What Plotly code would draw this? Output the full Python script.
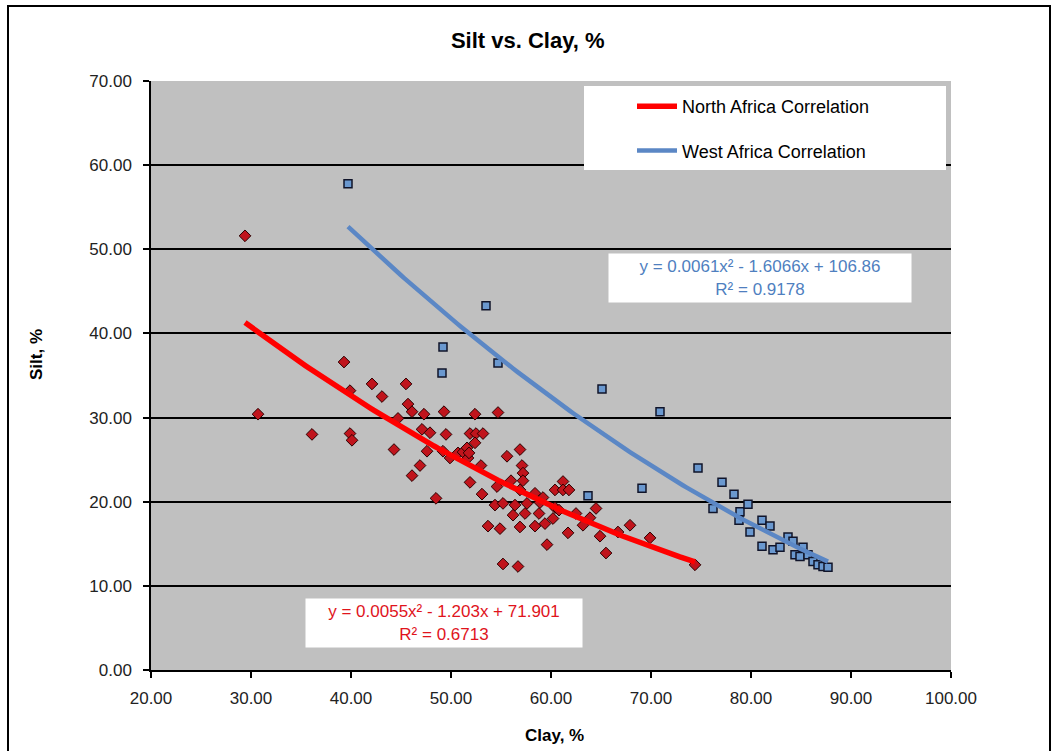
import numpy as np
import plotly.graph_objects as go

# North Africa samples: clay %, silt %
na_clay = [29.4, 30.7, 36.1, 39.3, 39.9, 39.9, 40.1, 42.1, 43.1, 44.3,
           44.7, 45.5, 45.7, 46.1, 46.1, 46.9, 47.1, 47.3, 47.6, 47.9,
           48.5, 49.3, 49.5, 49.2, 49.9, 50.7, 51.2, 51.6, 51.7, 51.8,
           51.9, 52.4, 52.5, 53.2, 52.4, 51.9, 53.0, 53.1, 53.7, 54.4,
           54.7, 54.9, 55.2, 55.2, 55.6, 56.0, 56.2, 56.4, 56.7, 56.9,
           56.9, 56.9, 57.1, 57.2, 57.2, 57.4, 58.4, 58.4, 58.8, 59.4,
           59.6, 60.2, 60.4, 60.4, 61.2, 61.2, 61.8, 61.7, 63.2, 63.9,
           64.5, 64.9, 65.5, 66.7, 67.9, 69.9, 74.4, 54.6, 57.6, 58.9,
           59.2, 60.8, 62.5]
na_silt = [51.6, 30.4, 28.0, 36.6, 33.2, 28.1, 27.3, 34.0, 32.5, 26.2,
           29.9, 34.0, 31.6, 30.7, 23.1, 24.3, 28.6, 30.4, 26.0, 28.2,
           20.4, 30.7, 28.0, 26.0, 25.2, 25.8, 25.9, 26.4, 25.2, 25.8,
           28.1, 30.4, 28.1, 28.1, 27.0, 22.3, 24.3, 20.9, 17.1, 19.6,
           30.6, 16.8, 19.8, 12.6, 25.4, 22.5, 18.4, 19.6, 12.3, 26.2,
           21.4, 17.0, 24.3, 23.4, 22.5, 18.6, 21.0, 17.1, 18.6, 17.4,
           14.9, 18.0, 21.4, 19.3, 22.4, 21.4, 21.4, 16.3, 17.2, 18.1,
           19.2, 15.9, 13.9, 16.4, 17.2, 15.7, 12.5, 21.8, 19.8, 19.9,
           20.5, 19.0, 18.6]

# West Africa samples: clay %, silt %
wa_clay = [39.7, 49.1, 49.2, 53.5, 54.7, 63.7, 65.1, 69.1, 70.9, 74.7,
           76.2, 77.1, 78.3, 78.8, 78.9, 79.7, 79.9, 81.1, 81.1, 81.9,
           82.2, 82.9, 83.7, 84.2, 84.4, 84.9, 85.2, 85.7, 86.2, 86.7,
           87.2, 87.7]
wa_silt = [57.8, 35.3, 38.4, 43.3, 36.5, 20.7, 33.4, 21.6, 30.7, 24.0,
           19.2, 22.3, 20.9, 17.8, 18.8, 19.7, 16.4, 17.8, 14.7, 17.1,
           14.3, 14.6, 15.8, 15.3, 13.7, 13.5, 14.6, 13.7, 12.9, 12.5,
           12.3, 12.2]

# Polynomial trendline coefficients (a*x^2 + b*x + c) and R^2
na_coef = [0.0055, -1.203, 71.901]
na_r2 = 0.6713
wa_coef = [0.0061, -1.6066, 106.86]
wa_r2 = 0.9178

FONT = "Liberation Sans, Arial, sans-serif"


def trend(coef, xs):
    x = np.linspace(min(xs), max(xs), 120)
    return x, np.polyval(coef, x)


def eq_text(coef, r2):
    a, b, c = coef
    sign_b = "-" if b < 0 else "+"
    sign_c = "-" if c < 0 else "+"
    return (f"y = {a:g}x² {sign_b} {abs(b):g}x {sign_c} {abs(c):g}"
            f"<br>R² = {r2:g}")


fig = go.Figure()

fig.add_trace(go.Scatter(
    x=na_clay, y=na_silt, mode="markers", name="North Africa",
    showlegend=False,
    marker=dict(symbol="diamond", size=9, color="#C0141C",
                line=dict(color="#2a0000", width=1)),
))
fig.add_trace(go.Scatter(
    x=wa_clay, y=wa_silt, mode="markers", name="West Africa",
    showlegend=False,
    marker=dict(symbol="square", size=8, color="#6A98CF",
                line=dict(color="#10142a", width=1.5)),
))

nx, ny = trend(na_coef, na_clay)
fig.add_trace(go.Scatter(
    x=nx, y=ny, mode="lines", name="North Africa Correlation",
    legendgroup="na", line=dict(color="#FF0000", width=5.5),
))
wx, wy = trend(wa_coef, wa_clay)
fig.add_trace(go.Scatter(
    x=wx, y=wy, mode="lines", name="West Africa Correlation",
    legendgroup="wa", line=dict(color="#5B87C5", width=4.5),
))

# plot area spans 800 x 589 px; helpers to place things in paper units
def px_x(p):
    return (p - 151) / 800


def px_y(p):
    return (670 - p) / 589


shapes = [
    # outer chart frame
    dict(type="rect", xref="paper", yref="paper",
         x0=px_x(8), x1=px_x(1050), y0=px_y(770), y1=px_y(6),
         line=dict(color="black", width=2), fillcolor="rgba(0,0,0,0)",
         layer="below"),
    # white panel behind the legend
    dict(type="rect", xref="paper", yref="paper",
         x0=px_x(584), x1=px_x(946), y0=px_y(170), y1=px_y(86),
         line=dict(width=0), fillcolor="white", layer="above"),
]

annotations = [
    dict(text="<b>Silt, %</b>", xref="paper", yref="paper",
         x=px_x(37), y=px_y(355), textangle=-90, showarrow=False,
         font=dict(family=FONT, size=17, color="black"),
         xanchor="center", yanchor="middle"),
    dict(text="<b>Clay, %</b>", xref="paper", yref="paper",
         x=px_x(554), y=px_y(735), showarrow=False,
         font=dict(family=FONT, size=17, color="black"),
         xanchor="center", yanchor="middle"),
    dict(text=eq_text(wa_coef, wa_r2), xref="paper", yref="paper",
         x=px_x(760), y=px_y(277.5), showarrow=False,
         font=dict(family=FONT, size=17, color="#4F7FBF"),
         bgcolor="white", width=300, height=46, borderpad=1,
         xanchor="center", yanchor="middle"),
    dict(text=eq_text(na_coef, na_r2), xref="paper", yref="paper",
         x=px_x(444), y=px_y(623), showarrow=False,
         font=dict(family=FONT, size=17, color="#E0141C"),
         bgcolor="white", width=274, height=46, borderpad=1,
         xanchor="center", yanchor="middle"),
]

fig.update_layout(
    width=1058, height=751,
    margin=dict(l=151, r=107, t=81, b=81),
    paper_bgcolor="white", plot_bgcolor="#C0C0C0",
    font=dict(family=FONT, size=17, color="black"),
    title=dict(text="<b>Silt vs. Clay, %</b>", x=0.4988, xanchor="center",
               y=1 - 40 / 751, yanchor="middle",
               font=dict(family=FONT, size=22, color="black")),
    xaxis=dict(range=[20, 100], dtick=10, tick0=20, tickformat=".2f",
               showgrid=False, zeroline=False, showline=True,
               linecolor="black", linewidth=1.5, ticks="outside",
               ticklen=6, tickwidth=1.5, tickcolor="black",
               ticklabelstandoff=6,
               tickfont=dict(family=FONT, size=17, color="#222")),
    yaxis=dict(range=[0, 70], dtick=10, tick0=0, tickformat=".2f",
               showgrid=True, gridcolor="black", gridwidth=1.5,
               zeroline=False, showline=True, linecolor="black",
               linewidth=1.5, ticks="outside", ticklen=6, tickwidth=1.5,
               tickcolor="black", ticklabelstandoff=8,
               tickfont=dict(family=FONT, size=17, color="#222")),
    legend=dict(x=px_x(632), y=px_y(88), xanchor="left", yanchor="top",
                bgcolor="rgba(0,0,0,0)", borderwidth=0,
                traceorder="grouped", tracegroupgap=18, itemwidth=40,
                font=dict(family=FONT, size=18, color="black")),
    shapes=shapes,
    annotations=annotations,
)

fig.write_html("out.html")
